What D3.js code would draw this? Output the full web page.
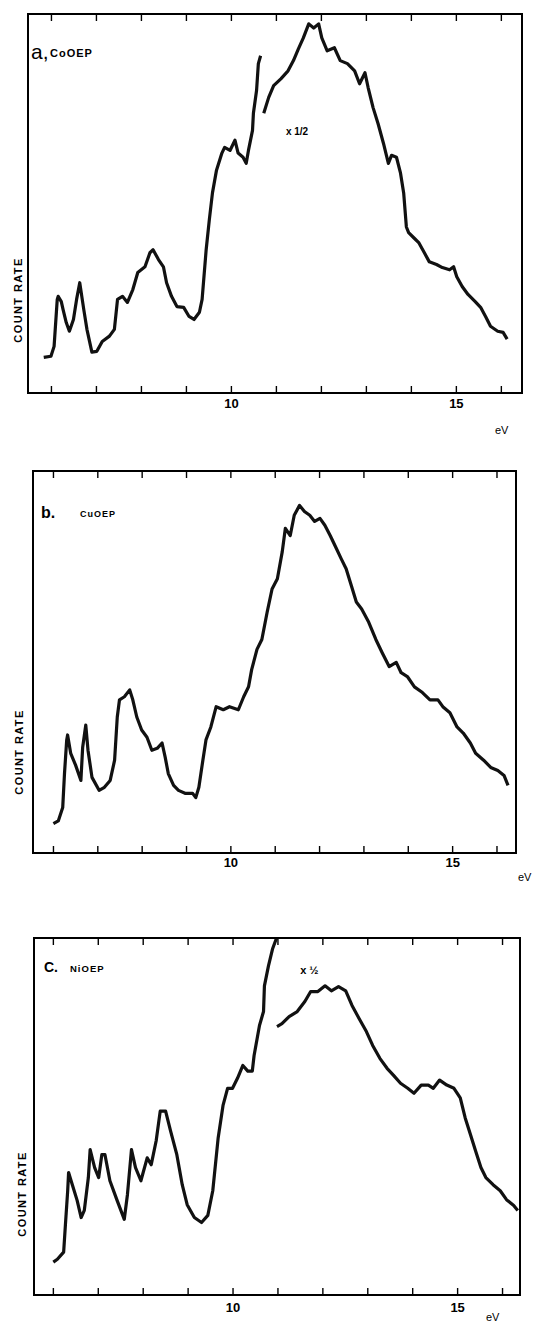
<!DOCTYPE html>
<html>
<head>
<meta charset="utf-8">
<script src="https://cdn.jsdelivr.net/npm/d3@7"></script>
<style>
body { margin: 0; background: #fff; }
svg { display: block; font-family: "Liberation Sans", Arial, sans-serif; }
</style>
</head>
<body>
<svg id="chart" width="535" height="1324"></svg>
<script>
// energy ticks (eV) shared by the three spectra
const tickEV = [6, 7, 8, 9, 10, 11, 12, 13, 14, 15, 16];
const tickLabels = [10, 15];

// a. CoOEP  (count rate in % of frame height)
const coEV1   = [5.84, 6.0, 6.07, 6.14, 6.16, 6.23, 6.27, 6.34, 6.41, 6.5, 6.57, 6.64, 6.73, 6.8, 6.91, 7.02, 7.14, 7.3, 7.41, 7.48, 7.59, 7.7, 7.82, 7.93, 8.09, 8.2, 8.27, 8.39, 8.5, 8.57, 8.68, 8.8, 8.95, 9.07, 9.18, 9.3, 9.36, 9.45, 9.52, 9.59, 9.68, 9.8, 9.86, 9.98, 10.09, 10.16, 10.27, 10.34, 10.39, 10.48, 10.5, 10.57, 10.61, 10.66];
const coRate1 = [9.4, 9.7, 12.3, 24.7, 25.5, 24.1, 22, 18.6, 16.3, 19.4, 24.7, 29.1, 22, 16.8, 10.8, 11, 13.6, 15, 16.8, 24.7, 25.5, 23.9, 27.3, 31.8, 33.3, 37, 37.8, 35.2, 33.3, 29.1, 25.5, 22.8, 22.6, 20.2, 19.4, 21.3, 24.7, 37.8, 45.7, 52.8, 58.8, 63.3, 64.8, 64, 66.7, 63.3, 62.2, 60.6, 64, 69.3, 73.8, 79.8, 86.9, 89];
// x 1/2 part
const coEV2   = [10.73, 10.84, 10.95, 11.11, 11.27, 11.39, 11.5, 11.61, 11.73, 11.84, 11.95, 12.02, 12.14, 12.3, 12.43, 12.59, 12.75, 12.86, 12.98, 13.05, 13.16, 13.27, 13.39, 13.5, 13.57, 13.68, 13.77, 13.84, 13.9, 13.95, 14.07, 14.18, 14.3, 14.41, 14.57, 14.7, 14.86, 14.95, 15.02, 15.14, 15.27, 15.43, 15.55, 15.66, 15.77, 15.93, 16.05, 16.14];
const coRate2 = [73.8, 78, 81.1, 82.9, 85, 87.7, 90.8, 93.7, 97.4, 96.3, 97.4, 93.7, 90.3, 91.1, 87.7, 86.9, 85, 81.6, 84.5, 80.6, 75.3, 71.1, 65.9, 60.6, 62.7, 62.2, 58, 52.8, 43.8, 42.3, 40.9, 39.6, 37, 34.6, 33.9, 33.1, 32.5, 33.3, 30.7, 28.1, 26, 24.1, 22.6, 20.2, 17.6, 16.3, 16, 14.2];

// b. CuOEP
const cuEV   = [6.01, 6.12, 6.22, 6.26, 6.31, 6.33, 6.4, 6.51, 6.63, 6.67, 6.74, 6.79, 6.88, 7.04, 7.16, 7.29, 7.39, 7.45, 7.5, 7.61, 7.73, 7.8, 7.89, 8.0, 8.12, 8.23, 8.35, 8.46, 8.53, 8.6, 8.72, 8.83, 8.99, 9.15, 9.22, 9.29, 9.38, 9.45, 9.56, 9.68, 9.84, 9.98, 10.18, 10.3, 10.41, 10.48, 10.6, 10.71, 10.83, 10.94, 11.06, 11.17, 11.24, 11.35, 11.44, 11.56, 11.67, 11.79, 11.9, 12.02, 12.13, 12.25, 12.39, 12.5, 12.61, 12.73, 12.84, 12.96, 13.12, 13.28, 13.42, 13.58, 13.74, 13.85, 13.99, 14.15, 14.33, 14.5, 14.68, 14.79, 14.95, 15.11, 15.25, 15.41, 15.53, 15.71, 15.87, 16.03, 16.17, 16.26];
const cuRate = [7.7, 8.4, 11.9, 20.8, 29.6, 30.9, 26.1, 23, 19, 27.7, 33.5, 26.9, 19.8, 16.4, 17.2, 19, 24.3, 35.6, 40.1, 40.9, 42.7, 40.1, 35.6, 32.2, 30.3, 26.9, 27.4, 28.8, 25.1, 20.8, 17.7, 16.4, 15.6, 15.6, 14.5, 17.2, 24.3, 29.6, 33, 38.3, 37.5, 38.3, 37.5, 40.9, 43.5, 48, 53.3, 55.9, 63.1, 69.1, 71.8, 78.9, 85, 83.1, 88.4, 91, 89.4, 88.4, 86.8, 87.6, 85.8, 83.1, 79.7, 77, 74.4, 69.9, 65.7, 63.9, 60.4, 55.9, 52.5, 48.8, 49.9, 47.2, 46.2, 43.5, 42, 40.1, 40.1, 38.3, 36.7, 33, 31.4, 28.8, 26.1, 24.3, 22.4, 21.6, 20.3, 17.7];

// c. NiOEP
const niEV1   = [6.01, 6.1, 6.24, 6.28, 6.33, 6.35, 6.44, 6.54, 6.63, 6.7, 6.79, 6.83, 6.93, 7.02, 7.09, 7.16, 7.27, 7.43, 7.59, 7.66, 7.75, 7.84, 7.96, 8.1, 8.19, 8.3, 8.39, 8.51, 8.62, 8.76, 8.88, 8.99, 9.15, 9.31, 9.45, 9.56, 9.68, 9.79, 9.89, 10.0, 10.11, 10.23, 10.34, 10.44, 10.48, 10.6, 10.69, 10.71, 10.8, 10.89, 10.98];
const niRate1 = [9.2, 10, 12, 19.8, 29.2, 34.3, 30.6, 26.5, 21.7, 23.7, 32.9, 40.7, 35.7, 32.9, 39.3, 39.3, 32, 26.5, 21.2, 28.1, 40.7, 35.7, 32, 38.4, 36.5, 43.2, 51.5, 51.5, 46, 39.3, 30.9, 25.3, 21.7, 20.3, 22.3, 29.2, 44, 53.2, 57.9, 57.9, 60.7, 64.3, 62.7, 62.7, 67.1, 75.5, 79.4, 86.6, 92.2, 96.9, 100];
// x 1/2 part
const niEV2   = [10.99, 11.1, 11.26, 11.44, 11.61, 11.74, 11.9, 12.06, 12.2, 12.36, 12.52, 12.66, 12.82, 12.98, 13.12, 13.28, 13.44, 13.58, 13.74, 13.9, 14.04, 14.2, 14.36, 14.47, 14.61, 14.77, 14.93, 15.07, 15.18, 15.3, 15.41, 15.53, 15.64, 15.8, 15.96, 16.1, 16.26, 16.35];
const niRate2 = [75.2, 76, 78, 79.4, 82.2, 85, 85, 86.6, 85.2, 86.4, 85.2, 81.1, 77.4, 73.8, 69.9, 66.3, 63.5, 61.6, 59.3, 57.9, 56.5, 58.8, 58.8, 57.9, 60.2, 58.8, 57.9, 55.2, 49.6, 44.8, 40.4, 35.7, 32.9, 30.9, 29.2, 26.7, 25.1, 23.7];

const zip = (xs, ys) => xs.map((x, i) => [x, ys[i]]);

const svg = d3.select("#chart");
svg.append("rect").attr("width", 535).attr("height", 1324).attr("fill", "#fff");

const panels = [
  { top: 14, bottom: 393, left: 28, right: 522, dom: [5.49, 16.47], pad: 6,
    series: [zip(coEV1, coRate1), zip(coEV2, coRate2)],
    letter: "a,", letterSize: 21, letterWeight: "normal", lx: 31, ly: 59,
    name: "CoOEP", nameSize: 11, nx: 50, ny: 57,
    half: { text: "x 1/2", ev: 11.47, v: 69, size: 10 },
    cr: { x: 22, y: 300 }, ev: { x: 495, y: 434 } },
  { top: 471, bottom: 853, left: 33, right: 516, dom: [5.55, 16.44], pad: 5,
    series: [zip(cuEV, cuRate)],
    letter: "b.", letterSize: 16, letterWeight: "bold", lx: 41, ly: 518,
    name: "CuOEP", nameSize: 9, nx: 80, ny: 517,
    half: null,
    cr: { x: 23, y: 752 }, ev: { x: 518, y: 881 } },
  { top: 938, bottom: 1295, left: 34, right: 520, dom: [5.58, 16.4], pad: 8,
    series: [zip(niEV1, niRate1), zip(niEV2, niRate2)],
    letter: "C.", letterSize: 14, letterWeight: "bold", lx: 44, ly: 972,
    name: "NiOEP", nameSize: 9.5, nx: 70, ny: 972,
    half: { text: "x \u00bd", ev: 11.71, v: 91, size: 11 },
    cr: { x: 26, y: 1194 }, ev: { x: 486, y: 1321 } }
];

panels.forEach(p => {
  const x = d3.scaleLinear().domain(p.dom).range([p.left, p.right]);
  const y = d3.scaleLinear().domain([0, 100]).range([p.bottom, p.top]);
  const g = svg.append("g");

  // spectrum traces
  const line = d3.line().x(d => x(d[0])).y(d => y(d[1]));
  g.selectAll("path.trace")
    .data(p.series)
    .join("path")
      .attr("class", "trace")
      .attr("d", line)
      .attr("fill", "none")
      .attr("stroke", "#111")
      .attr("stroke-width", 3.2)
      .attr("stroke-linejoin", "round");

  // bottom axis, ticks pointing in
  const bottom = g.append("g")
      .attr("transform", `translate(0,${p.bottom})`)
      .call(d3.axisBottom(x).tickValues(tickEV).tickSize(-7).tickPadding(p.pad)
        .tickFormat(d => tickLabels.includes(d) ? d : ""));
  bottom.selectAll("text")
      .attr("font-size", 13).attr("font-weight", "bold")
      .attr("font-family", "Liberation Sans, Arial, sans-serif").attr("fill", "#000");

  g.append("g")
      .attr("transform", `translate(0,${p.top})`)
      .call(d3.axisTop(x).tickValues(tickEV).tickSize(-7).tickFormat(""));

  g.selectAll(".domain").remove();
  g.selectAll(".tick line").attr("stroke", "#000").attr("stroke-width", 1.4);

  // frame
  g.append("rect")
      .attr("x", p.left).attr("y", p.top)
      .attr("width", p.right - p.left).attr("height", p.bottom - p.top)
      .attr("fill", "none").attr("stroke", "#000").attr("stroke-width", 2);

  // labels
  g.append("text")
      .attr("x", p.lx).attr("y", p.ly)
      .attr("font-size", p.letterSize).attr("font-weight", p.letterWeight)
      .text(p.letter);
  g.append("text")
      .attr("x", p.nx).attr("y", p.ny)
      .attr("font-size", p.nameSize).attr("font-weight", "bold")
      .attr("letter-spacing", 1)
      .text(p.name);

  if (p.half) {
    g.append("text")
        .attr("x", x(p.half.ev)).attr("y", y(p.half.v))
        .attr("text-anchor", "middle").attr("dy", "0.35em")
        .attr("font-size", p.half.size).attr("font-weight", "bold")
        .text(p.half.text);
  }

  g.append("text")
      .attr("transform", `translate(${p.cr.x},${p.cr.y}) rotate(-90)`)
      .attr("text-anchor", "middle")
      .attr("font-size", 11).attr("font-weight", "bold")
      .attr("letter-spacing", 1.4)
      .text("COUNT RATE");

  g.append("text")
      .attr("x", p.ev.x).attr("y", p.ev.y)
      .attr("font-size", 11)
      .text("eV");
});
</script>
</body>
</html>
